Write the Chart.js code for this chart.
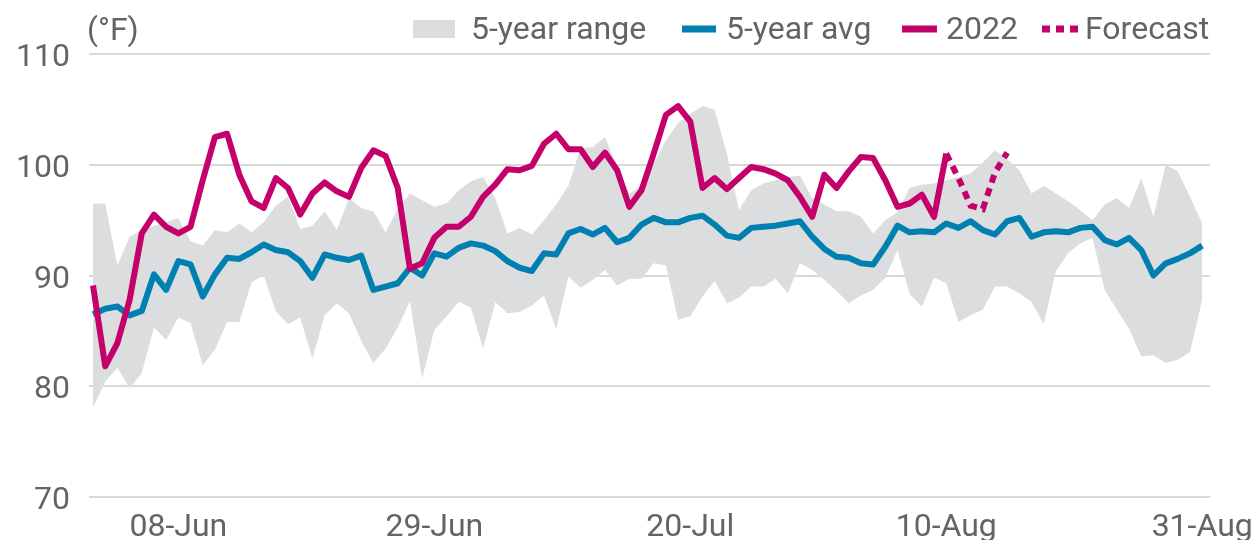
<!DOCTYPE html>
<html lang="en">
<head>
<meta charset="utf-8">
<title>Temperature vs 5-year range</title>
<script src="https://cdn.jsdelivr.net/npm/chart.js@4.4.0/dist/chart.umd.min.js"></script>
<style>
  html, body { margin: 0; padding: 0; background: #fff; }
  #wrap { width: 1259px; height: 540px; }
</style>
</head>
<body>
<div id="wrap"><canvas id="myChart" width="1259" height="540"></canvas></div>
<script>
// one value per day, day 0 = 01-Jun ... day 91 = 31-Aug
var rangeHigh = [96.5, 96.5, 90.9, 93.5, 94.1, 94.5, 94.8, 95.2, 93.1, 92.7,
                 94.1, 93.9, 94.7, 93.9, 94.8, 96.3, 97.1, 94.2, 94.5, 95.8,
                 94.1, 97.0, 96.1, 95.8, 93.9, 96.0, 97.4, 96.8, 96.2, 96.5,
                 97.7, 98.5, 98.9, 97.0, 93.8, 94.3, 93.7, 95.0, 96.4, 98.1,
                 101.5, 101.6, 102.5, 99.8, 97.4, 98.1, 100.1, 102.2, 103.8, 104.6,
                 105.3, 105.0, 101.0, 95.9, 97.7, 98.3, 98.6, 98.9, 99.0, 97.0,
                 96.4, 95.8, 95.8, 95.3, 93.8, 95.0, 95.7, 97.9, 98.2, 98.3,
                 98.6, 98.9, 99.2, 100.2, 101.3, 100.5, 99.5, 97.4, 98.1, 97.4,
                 96.7, 95.9, 95.0, 96.4, 97.0, 96.1, 98.8, 95.3, 100.0, 99.4,
                 97.1, 94.7];
var rangeLow = [78.1, 80.4, 81.7, 79.8, 81.2, 85.3, 84.2, 86.2, 85.7, 81.9,
                83.3, 85.8, 85.8, 89.4, 90.0, 86.8, 85.6, 86.2, 82.5, 86.4,
                87.5, 86.6, 84.1, 82.1, 83.4, 85.3, 87.7, 80.7, 85.1, 86.3,
                87.6, 87.1, 83.4, 87.6, 86.6, 86.7, 87.3, 88.2, 85.2, 89.9,
                88.9, 89.6, 90.5, 89.1, 89.7, 89.7, 91.1, 90.9, 86.0, 86.3,
                88.1, 89.5, 87.5, 88.0, 89.0, 89.0, 89.7, 88.4, 91.1, 90.5,
                89.6, 88.6, 87.5, 88.2, 88.7, 89.8, 92.3, 88.3, 87.2, 89.8,
                89.3, 85.8, 86.4, 86.9, 89.0, 89.0, 88.4, 87.6, 85.6, 90.4,
                92.0, 92.9, 93.4, 88.7, 86.9, 85.2, 82.7, 82.8, 82.1, 82.4,
                83.1, 87.8];
var avg5 = [86.5, 87.0, 87.2, 86.4, 86.8, 90.1, 88.7, 91.3, 91.0, 88.1,
            90.1, 91.6, 91.5, 92.1, 92.8, 92.3, 92.1, 91.3, 89.8, 91.9,
            91.6, 91.4, 91.8, 88.7, 89.0, 89.3, 90.7, 90.0, 92.0, 91.7,
            92.5, 92.9, 92.7, 92.2, 91.3, 90.7, 90.4, 92.0, 91.9, 93.8,
            94.2, 93.7, 94.3, 93.0, 93.4, 94.6, 95.2, 94.8, 94.8, 95.2,
            95.4, 94.6, 93.6, 93.4, 94.3, 94.4, 94.5, 94.7, 94.9, 93.5,
            92.4, 91.7, 91.6, 91.1, 91.0, 92.6, 94.5, 93.9, 94.0, 93.9,
            94.7, 94.3, 94.9, 94.1, 93.7, 94.9, 95.2, 93.5, 93.9, 94.0,
            93.9, 94.3, 94.4, 93.2, 92.8, 93.4, 92.3, 90.0, 91.1, 91.5,
            92.0, 92.7];
var y2022 = [89.1, 81.8, 83.9, 87.8, 93.8, 95.5, 94.4, 93.8, 94.4, 98.6,
             102.5, 102.8, 99.1, 96.7, 96.1, 98.8, 97.9, 95.5, 97.4, 98.4,
             97.6, 97.1, 99.7, 101.3, 100.8, 97.9, 90.6, 91.1, 93.4, 94.4,
             94.4, 95.3, 97.1, 98.2, 99.6, 99.5, 99.9, 101.9, 102.8, 101.4,
             101.4, 99.8, 101.1, 99.5, 96.2, 97.7, 101.0, 104.5, 105.3, 103.9,
             97.9, 98.8, 97.8, 98.8, 99.8, 99.6, 99.2, 98.6, 97.1, 95.3,
             99.1, 97.9, 99.4, 100.7, 100.6, 98.6, 96.2, 96.5, 97.3, 95.3,
             101.0];
var forecastStart = 70;
var forecast = [101.0, 98.8, 96.3, 96.0, 99.3, 101.1];

var tickDays = [7, 28, 49, 70, 91];
var tickLabels = ['08-Jun', '29-Jun', '20-Jul', '10-Aug', '31-Aug'];

var magenta = '#c4006a';
var blue = '#0080b0';
var rangeGrey = '#dcdddf';
var textGrey = '#646464';
var fontName = 'Roboto, "Liberation Sans", sans-serif';

function toPoints(arr, start) {
    var out = [];
    for (var i = 0; i < arr.length; i++) {
        out.push({ x: i + start, y: arr[i] });
    }
    return out;
}

// legend and unit label, drawn on top of the canvas
var topLegend = {
    id: 'topLegend',
    afterDraw: function(chart) {
        var ctx = chart.ctx;
        ctx.save();
        ctx.font = '32px ' + fontName;
        ctx.fillStyle = textGrey;
        ctx.textBaseline = 'alphabetic';
        ctx.textAlign = 'left';
        ctx.fillText('(°F)', 87, 40);

        // 5-year range
        ctx.fillStyle = rangeGrey;
        ctx.fillRect(413, 20, 42, 18);
        ctx.fillStyle = textGrey;
        ctx.fillText('5-year range', 471, 39);

        // 5-year avg
        ctx.strokeStyle = blue;
        ctx.lineWidth = 7;
        ctx.beginPath();
        ctx.moveTo(682, 29);
        ctx.lineTo(716, 29);
        ctx.stroke();
        ctx.fillText('5-year avg', 726, 39);

        // 2022
        ctx.strokeStyle = magenta;
        ctx.beginPath();
        ctx.moveTo(902, 29);
        ctx.lineTo(937, 29);
        ctx.stroke();
        ctx.fillText('2022', 946, 39);

        // Forecast
        ctx.setLineDash([8, 6]);
        ctx.beginPath();
        ctx.moveTo(1042, 29);
        ctx.lineTo(1078, 29);
        ctx.stroke();
        ctx.setLineDash([]);
        ctx.fillText('Forecast', 1085, 39);
        ctx.restore();
    }
};

var ctx = document.getElementById('myChart');
var chart = new Chart(ctx, {
    type: 'line',
    data: {
        datasets: [{
            label: '2022',
            data: toPoints(y2022, 0),
            borderColor: magenta,
            borderWidth: 6,
            borderJoinStyle: 'round',
            pointRadius: 0,
            fill: false,
            order: 1
        }, {
            label: 'Forecast',
            data: toPoints(forecast, forecastStart),
            borderColor: magenta,
            borderWidth: 6,
            borderDash: [8, 6],
            pointRadius: 0,
            fill: false,
            order: 0
        }, {
            label: '5-year avg',
            data: toPoints(avg5, 0),
            borderColor: blue,
            borderWidth: 6,
            borderJoinStyle: 'round',
            pointRadius: 0,
            fill: false,
            order: 2
        }, {
            label: '5-year range',
            data: toPoints(rangeHigh, 0),
            borderWidth: 0,
            borderColor: rangeGrey,
            backgroundColor: rangeGrey,
            pointRadius: 0,
            fill: '+1',
            order: 3
        }, {
            label: 'range low',
            data: toPoints(rangeLow, 0),
            borderWidth: 0,
            borderColor: rangeGrey,
            pointRadius: 0,
            fill: false,
            order: 4
        }]
    },
    options: {
        responsive: false,
        animation: false,
        layout: { padding: { top: 54, right: 49, left: 0, bottom: 0 } },
        plugins: {
            legend: { display: false },
            tooltip: { enabled: false }
        },
        scales: {
            x: {
                type: 'linear',
                min: -0.33,
                max: 91.64,
                grid: { display: false },
                border: { display: false },
                afterBuildTicks: function(scale) {
                    scale.ticks = tickDays.map(function(d) { return { value: d }; });
                },
                afterFit: function(scale) { scale.height = 43; },
                ticks: {
                    autoSkip: false,
                    maxRotation: 0,
                    padding: 4,
                    color: textGrey,
                    font: { family: fontName, size: 32 },
                    callback: function(v) {
                        var k = tickDays.indexOf(v);
                        return k >= 0 ? tickLabels[k] : '';
                    }
                }
            },
            y: {
                min: 70,
                max: 110,
                border: { display: false },
                grid: { color: '#d9d9d9', lineWidth: 2, drawTicks: false },
                afterFit: function(scale) { scale.width = 89; },
                ticks: {
                    stepSize: 10,
                    padding: 19,
                    labelOffset: 4,
                    color: textGrey,
                    font: { family: fontName, size: 32 }
                }
            }
        }
    },
    plugins: [topLegend]
});
</script>
</body>
</html>
